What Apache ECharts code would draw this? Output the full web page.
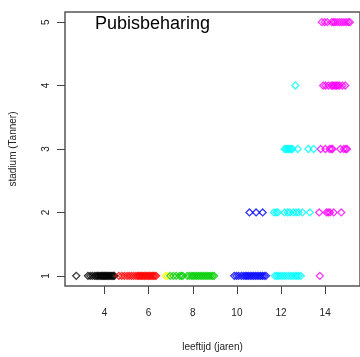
<!DOCTYPE html>
<html><head><meta charset="utf-8">
<script src="https://cdn.jsdelivr.net/npm/echarts@6/dist/echarts.min.js"></script>
<style>html,body{margin:0;padding:0;background:#fff}#c{width:360px;height:357px}</style>
</head><body><div id="c"></div>
<script>
const titleText = 'Pubisbeharing';
const xName = 'leeftijd (jaren)';
const yName = 'stadium (Tanner)';
const xTicks = [4, 6, 8, 10, 12, 14];
const yTicks = [1, 2, 3, 4, 5];

// ages per colour group, per Tanner stage
const black1 = [2.72, 3.25, 3.35, 3.45, 3.55, 3.62, 3.68, 3.74, 3.8, 3.85, 3.9, 3.95, 4.0, 4.05, 4.1, 4.15, 4.2, 4.25, 4.3, 4.35, 4.4, 4.45];
const red1 = [4.65, 4.78, 4.9, 5.02, 5.12, 5.22, 5.32, 5.42, 5.5, 5.56, 5.62, 5.68, 5.74, 5.8, 5.86, 5.92, 5.98, 6.04, 6.1, 6.16, 6.22, 6.28, 6.34];
const yellow1 = [6.77, 6.85];
const green1 = [6.98, 7.12, 7.25, 7.4, 7.48, 7.55, 7.75, 7.85, 7.95, 8.02, 8.1, 8.18, 8.26, 8.34, 8.42, 8.5, 8.58, 8.66, 8.74, 8.82, 8.9, 8.97];
const blue1 = [9.88, 9.98, 10.08, 10.2, 10.3, 10.38, 10.45, 10.52, 10.6, 10.68, 10.76, 10.84, 10.92, 11.0, 11.08, 11.16, 11.24, 11.32];
const blue2 = [10.57, 10.87, 11.17];
const cyan1 = [11.72, 11.8, 11.88, 11.96, 12.05, 12.15, 12.25, 12.35, 12.45, 12.55, 12.65, 12.72, 12.8, 12.9];
const cyan2 = [11.68, 11.78, 11.86, 12.16, 12.3, 12.4, 12.56, 12.68, 12.79, 12.97, 13.31];
const cyan3 = [12.16, 12.22, 12.28, 12.34, 12.4, 12.46, 12.52, 12.76, 13.24, 13.48];
const cyan4 = [12.65];
const magenta1 = [13.76];
const magenta2 = [13.73, 14.06, 14.14, 14.22, 14.39, 14.73];
const magenta3 = [13.8, 14.01, 14.2, 14.28, 14.33, 14.69, 14.85, 14.94, 14.99];
const magenta4 = [13.91, 14.02, 14.15, 14.28, 14.34, 14.4, 14.46, 14.52, 14.58, 14.65, 14.78, 14.91];
const magenta5 = [13.85, 13.98, 14.1, 14.3, 14.38, 14.45, 14.55, 14.65, 14.75, 14.85, 14.95, 15.05, 15.12];

const groups = [
  {color: '#000000', stages: {1: black1}},
  {color: '#ff0000', stages: {1: red1}},
  {color: '#ffff00', stages: {1: yellow1}},
  {color: '#00cd00', stages: {1: green1}},
  {color: '#0000ff', stages: {1: blue1, 2: blue2}},
  {color: '#00ffff', stages: {1: cyan1, 2: cyan2, 3: cyan3, 4: cyan4}},
  {color: '#ff00ff', stages: {1: magenta1, 2: magenta2, 3: magenta3, 4: magenta4, 5: magenta5}}
];

const series = groups.map(g => {
  const data = [];
  Object.keys(g.stages).forEach(s => g.stages[s].forEach(a => data.push([a, Number(s)])));
  return {
    type: 'scatter', data, symbol: 'diamond', symbolSize: 7,
    itemStyle: {color: 'rgba(0,0,0,0)', borderColor: g.color, borderWidth: 1.3},
    silent: true, animation: false
  };
});

const font = 'Liberation Sans, Arial, sans-serif';
const chart = echarts.init(document.getElementById('c'));
chart.setOption({
  animation: false,
  title: {text: titleText, left: 90, top: 10, textStyle: {fontSize: 18, fontWeight: 'normal', color: '#000', fontFamily: font}},
  grid: {left: 65, top: 12, right: -4, bottom: 71, show: true, borderColor: '#555', borderWidth: 1.5, backgroundColor: 'transparent'},
  xAxis: {
    type: 'value', min: 2.21, max: 15.58,
    splitLine: {show: false},
    axisLine: {show: false},
    axisTick: {show: true, length: 8, customValues: xTicks, lineStyle: {color: '#444'}},
    axisLabel: {customValues: xTicks, margin: 22, fontSize: 10, color: '#222', fontFamily: font},
    name: xName, nameLocation: 'middle', nameGap: 56,
    nameTextStyle: {fontSize: 10, color: '#222', fontFamily: font}
  },
  yAxis: {
    type: 'value', min: 0.84, max: 5.16,
    splitLine: {show: false},
    axisLine: {show: false},
    axisTick: {show: true, length: 8, customValues: yTicks, lineStyle: {color: '#444'}},
    axisLabel: {customValues: yTicks, rotate: 90, margin: 14, fontSize: 10, color: '#222', fontFamily: font},
    name: yName, nameLocation: 'middle', nameGap: 47, nameRotate: 90,
    nameTextStyle: {fontSize: 10, color: '#222', fontFamily: font}
  },
  series
});
</script></body></html>
